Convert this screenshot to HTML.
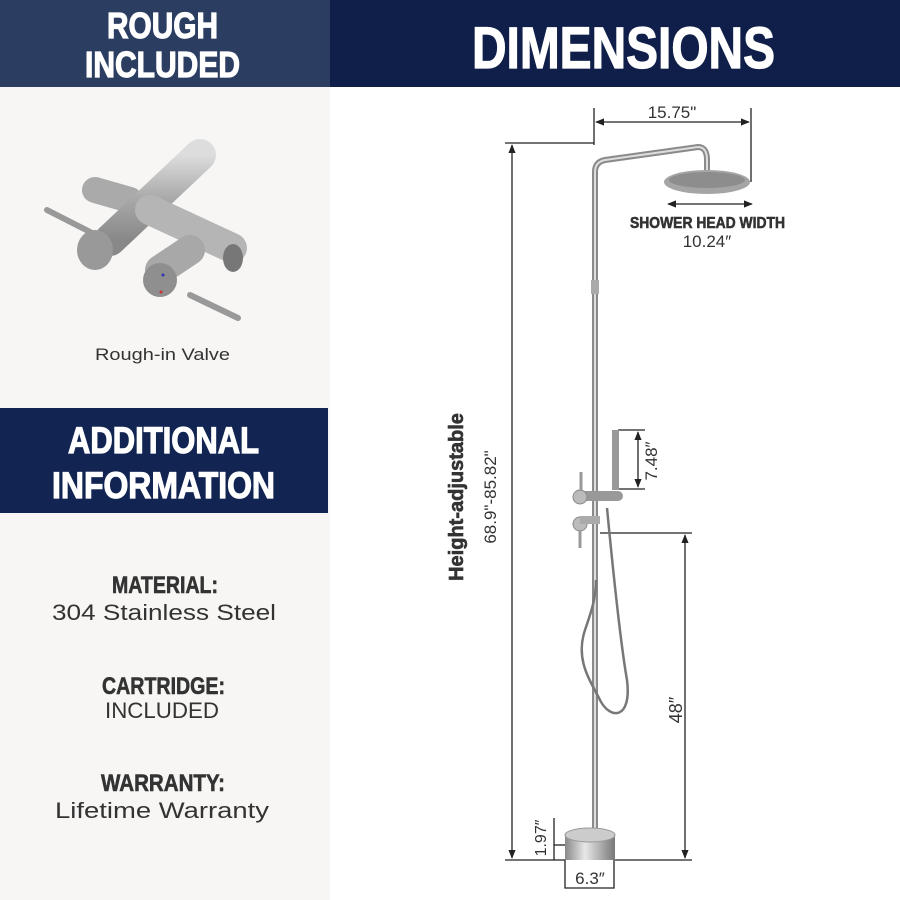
<!DOCTYPE html>
<html><head><meta charset="utf-8"><style>
html,body{margin:0;padding:0;background:#fff}
svg{display:block}
text{font-family:"Liberation Sans",sans-serif}
.n{font-weight:bold}
.h{stroke:#fff;stroke-width:1.2}
.d{stroke:#333;stroke-width:0.6}
</style></head><body>
<svg width="900" height="900" viewBox="0 0 900 900" xmlns="http://www.w3.org/2000/svg">
<defs>
<marker id="a" viewBox="0 0 10 10" refX="9" refY="5" markerWidth="7" markerHeight="7" orient="auto-start-reverse"><path d="M0,1 L10,5 L0,9 z" fill="#222"/></marker>
<linearGradient id="m" x1="0" y1="0" x2="1" y2="0"><stop offset="0" stop-color="#888"/><stop offset="0.4" stop-color="#e8e8e8"/><stop offset="1" stop-color="#777"/></linearGradient>
<linearGradient id="g" x1="0" y1="0" x2="0" y2="1"><stop offset="0" stop-color="#ddd"/><stop offset="0.5" stop-color="#aaa"/><stop offset="1" stop-color="#888"/></linearGradient>
</defs>
<rect x="0" y="0" width="900" height="900" fill="#fff"/>
<rect x="0" y="87" width="330" height="813" fill="#f7f6f4"/>
<rect x="0" y="0" width="330" height="87" fill="#2c3d62"/>
<rect x="330" y="0" width="570" height="87" fill="#101f4a"/>
<text x="107" y="38" class="n h" font-size="36" fill="#fff" textLength="111" lengthAdjust="spacingAndGlyphs">ROUGH</text>
<text x="85" y="77" class="n h" font-size="36" fill="#fff" textLength="155" lengthAdjust="spacingAndGlyphs">INCLUDED</text>
<text x="472" y="68" class="n h" font-size="58" fill="#fff" textLength="303" lengthAdjust="spacingAndGlyphs">DIMENSIONS</text>

<g stroke-linecap="round" fill="none">
<line x1="47" y1="210" x2="98" y2="236" stroke="#999" stroke-width="6"/>
<line x1="190" y1="295" x2="238" y2="318" stroke="#999" stroke-width="6"/>
<line x1="95" y1="190" x2="130" y2="200" stroke="#aaa" stroke-width="26"/>
<line x1="110" y1="240" x2="200" y2="155" stroke="url(#g)" stroke-width="32"/>
<line x1="150" y1="210" x2="232" y2="248" stroke="#b5b5b5" stroke-width="30"/>
<line x1="160" y1="270" x2="190" y2="250" stroke="#a8a8a8" stroke-width="30"/>
</g>
<ellipse cx="95" cy="250" rx="18" ry="20" fill="#999"/>
<ellipse cx="160" cy="280" rx="17" ry="17" fill="#8f8f8f"/>
<circle cx="163" cy="275" r="1.5" fill="#33a"/><circle cx="161" cy="292" r="1.5" fill="#c33"/>
<ellipse cx="233" cy="258" rx="10" ry="14" fill="#777"/>
<text x="95" y="360" font-size="17" fill="#333" textLength="135" lengthAdjust="spacingAndGlyphs">Rough-in Valve</text>

<rect x="0" y="408" width="328" height="105" fill="#122452"/>
<text x="68" y="453" class="n h" font-size="37" fill="#fff" textLength="191" lengthAdjust="spacingAndGlyphs">ADDITIONAL</text>
<text x="52" y="498" class="n h" font-size="37" fill="#fff" textLength="223" lengthAdjust="spacingAndGlyphs">INFORMATION</text>

<g fill="#333">
<text x="112" y="593" class="n d" font-size="24" textLength="106" lengthAdjust="spacingAndGlyphs">MATERIAL:</text>
<text x="52" y="620" font-size="22" textLength="224" lengthAdjust="spacingAndGlyphs">304 Stainless Steel</text>
<text x="102" y="694" class="n d" font-size="24" textLength="123" lengthAdjust="spacingAndGlyphs">CARTRIDGE:</text>
<text x="105" y="718" font-size="22" textLength="114" lengthAdjust="spacingAndGlyphs">INCLUDED</text>
<text x="101" y="791" class="n d" font-size="24" textLength="124" lengthAdjust="spacingAndGlyphs">WARRANTY:</text>
<text x="55" y="818" font-size="22" textLength="214" lengthAdjust="spacingAndGlyphs">Lifetime Warranty</text>
</g>

<g stroke="#222" stroke-width="1.3" fill="none">
<line x1="505" y1="143" x2="594" y2="143"/>
<line x1="512" y1="145" x2="512" y2="858" marker-start="url(#a)" marker-end="url(#a)"/>
<line x1="505" y1="860" x2="565" y2="860"/>
<line x1="615" y1="860" x2="692" y2="860"/>
<line x1="594" y1="108" x2="594" y2="145"/>
<line x1="751" y1="108" x2="751" y2="182"/>
<line x1="596" y1="122" x2="749" y2="122" marker-start="url(#a)" marker-end="url(#a)"/>
<line x1="668" y1="204" x2="752" y2="204" marker-start="url(#a)" marker-end="url(#a)"/>
<line x1="618" y1="430" x2="645" y2="430"/>
<line x1="618" y1="489" x2="645" y2="489"/>
<line x1="638" y1="432" x2="638" y2="487" marker-start="url(#a)" marker-end="url(#a)"/>
<line x1="600" y1="533" x2="692" y2="533"/>
<line x1="685" y1="535" x2="685" y2="858" marker-start="url(#a)" marker-end="url(#a)"/>
<line x1="554" y1="818" x2="554" y2="860"/>
<line x1="554" y1="845" x2="566" y2="845"/>
<path d="M565,860 V888 H614 V860"/>
</g>
<path d="M595,845 V172 Q595,162 605,160 L698,147 Q707,147 707,160 V172" stroke="#8a8a8a" stroke-width="6" fill="none"/>
<path d="M595,845 V172 Q595,162 605,160 L698,147 Q707,147 707,160 V172" stroke="#ddd" stroke-width="2" fill="none"/>
<rect x="591" y="280" width="8" height="14" fill="#aaa"/>
<ellipse cx="707" cy="182" rx="43" ry="12" fill="#a5a5a5"/>
<ellipse cx="707" cy="180" rx="38" ry="8" fill="#8d8d8d"/>
<rect x="612" y="430" width="7" height="60" fill="#999"/>
<path d="M607,508 C612,560 620,640 627,680 C632,720 610,720 600,700 C590,680 575,660 585,630 C590,615 596,600 596,580" stroke="#777" stroke-width="2.5" fill="none"/>
<line x1="579" y1="496" x2="618" y2="496" stroke="#999" stroke-width="10" stroke-linecap="round"/>
<circle cx="580" cy="497" r="7" fill="#bbb" stroke="#888"/>
<circle cx="580" cy="524" r="7" fill="#bbb" stroke="#888"/>
<line x1="580" y1="520" x2="600" y2="520" stroke="#aaa" stroke-width="8"/>
<line x1="581" y1="472" x2="581" y2="490" stroke="#999" stroke-width="3"/>
<line x1="580" y1="530" x2="580" y2="548" stroke="#999" stroke-width="3"/>
<rect x="565" y="835" width="50" height="25" fill="url(#m)"/>
<ellipse cx="590" cy="835" rx="25" ry="7" fill="#ccc" stroke="#999"/>

<g fill="#333">
<text x="672" y="118" font-size="17" text-anchor="middle">15.75"</text>
<text x="630" y="228" class="n d" font-size="16" textLength="155" lengthAdjust="spacingAndGlyphs">SHOWER HEAD WIDTH</text>
<text x="707" y="247" font-size="17" text-anchor="middle">10.24″</text>
<text transform="translate(463,497) rotate(-90)" class="n d" font-size="20" text-anchor="middle">Height-adjustable</text>
<text transform="translate(496,497) rotate(-90)" font-size="17" text-anchor="middle">68.9"-85.82"</text>
<text transform="translate(657,461) rotate(-90)" font-size="17" text-anchor="middle">7.48″</text>
<text transform="translate(682,710) rotate(-90)" font-size="18" text-anchor="middle">48″</text>
<text transform="translate(546,838) rotate(-90)" font-size="16" text-anchor="middle">1.97″</text>
<text x="590" y="884" font-size="17" text-anchor="middle">6.3″</text>
</g>
</svg>
</body></html>
